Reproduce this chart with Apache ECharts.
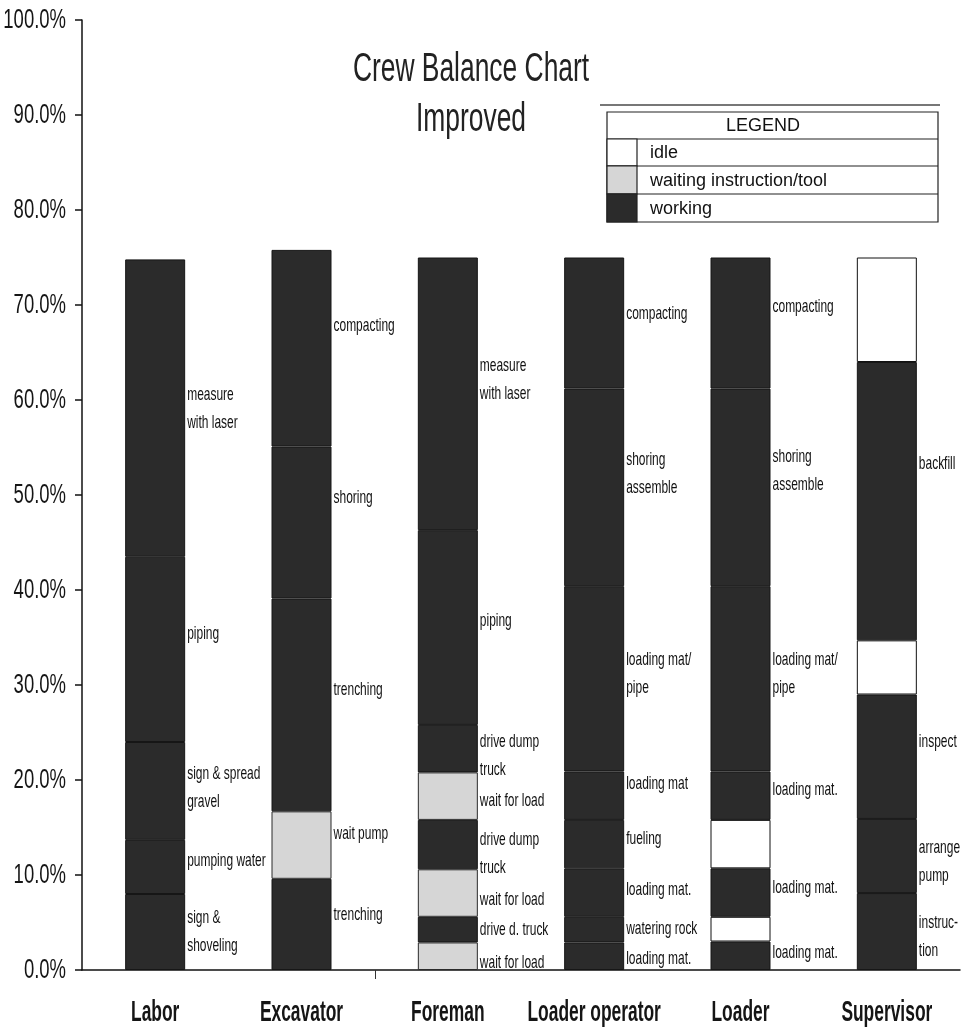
<!DOCTYPE html>
<html>
<head>
<meta charset="utf-8">
<script src="https://cdn.jsdelivr.net/npm/echarts@6/dist/echarts.min.js"></script>
<style>
  html, body { margin: 0; padding: 0; background: #fff; }
  #chart { width: 971px; height: 1033px; }
</style>
</head>
<body>
<div id="chart"></div>
<script>
// Crew members along the horizontal axis
const crews = ['Labor', 'Excavator', 'Foreman', 'Loader operator', 'Loader', 'Supervisor'];

// Percent-of-time segments for each crew member, listed bottom to top
const laborValues = [8.0, 5.7, 10.3, 19.5, 31.3];
const laborStates = ['w', 'w', 'w', 'w', 'w'];
const laborTasks = ['sign &\nshoveling', 'pumping water', 'sign & spread\ngravel', 'piping', 'measure\nwith laser'];

const excavatorValues = [9.6, 7.1, 22.4, 16.0, 20.7];
const excavatorStates = ['w', 'g', 'w', 'w', 'w'];
const excavatorTasks = ['trenching', 'wait pump', 'trenching', 'shoring', 'compacting'];

const foremanValues = [2.9, 2.7, 5.0, 5.2, 5.0, 5.0, 20.5, 28.7];
const foremanStates = ['g', 'w', 'g', 'w', 'g', 'w', 'w', 'w'];
const foremanTasks = ['wait for load', 'drive d. truck', 'wait for load', 'drive dump\ntruck', 'wait for load', 'drive dump\ntruck', 'piping', 'measure\nwith laser'];

const operatorValues = [2.9, 2.7, 5.1, 5.1, 5.1, 19.5, 20.8, 13.8];
const operatorStates = ['w', 'w', 'w', 'w', 'w', 'w', 'w', 'w'];
const operatorTasks = ['loading mat.', 'watering rock', 'loading mat.', 'fueling', 'loading mat', 'loading mat/\npipe', 'shoring\nassemble', 'compacting'];

const loaderValues = [3.0, 2.6, 5.1, 5.1, 5.1, 19.5, 20.8, 13.8];
const loaderStates = ['w', 'i', 'w', 'i', 'w', 'w', 'w', 'w'];
const loaderTasks = ['loading mat.', '', 'loading mat.', '', 'loading mat.', 'loading mat/\npipe', 'shoring\nassemble', 'compacting'];

const supervisorValues = [8.1, 7.8, 13.1, 5.7, 29.3, 11.0];
const supervisorStates = ['w', 'w', 'w', 'i', 'w', 'i'];
const supervisorTasks = ['instruc-\ntion', 'arrange\npump', 'inspect', '', 'backfill', ''];

// Y axis tick labels
const yTickValues = [0, 10, 20, 30, 40, 50, 60, 70, 80, 90, 100];
const yTickLabels = ['0.0%', '10.0%', '20.0%', '30.0%', '40.0%', '50.0%', '60.0%', '70.0%', '80.0%', '90.0%', '100.0%'];

// Legend entries
const legendStates = ['i', 'g', 'w'];
const legendNames = ['idle', 'waiting instruction/tool', 'working'];

// Styling
const stateColors = { w: '#2b2b2b', g: '#d6d6d6', i: '#ffffff' };
const stateBorders = { w: '#161616', g: '#2a2a2a', i: '#111111' };

// Vertical pixel nudges for task names (negative moves up), per crew, bottom to top
const taskNudges = [
  [0, -6, -3, -16, 1],
  [-10, -11, -15, -25, -22],
  [7, 0, 7, 9, 5, 7, -7, -14],
  [3, -1, -3, -5, -12, -5, -14, -9],
  [-3, 0, -5, 0, -6, -5, -17, -16],
  [5, 6, -15, 0, -37, 0]
];

const crewData = [
  [laborValues, laborStates, laborTasks],
  [excavatorValues, excavatorStates, excavatorTasks],
  [foremanValues, foremanStates, foremanTasks],
  [operatorValues, operatorStates, operatorTasks],
  [loaderValues, loaderStates, loaderTasks],
  [supervisorValues, supervisorStates, supervisorTasks]
];

const sans = '"Liberation Sans", Arial, sans-serif';
const BAR_W = 60;
// tall, narrow lettering used throughout the chart
const SQUEEZE = 0.63;

// Stacked bar series, one per layer of segments
const maxLevels = Math.max(...crewData.map(c => c[0].length));
const series = [];
for (let k = 0; k < maxLevels; k++) {
  series.push({
    type: 'bar',
    stack: 'time',
    barWidth: BAR_W,
    data: crewData.map(([vals, states]) => {
      if (k >= vals.length) return '-';
      const s = states[k];
      return {
        value: vals[k],
        itemStyle: { color: stateColors[s], borderColor: stateBorders[s], borderWidth: 1 }
      };
    })
  });
}

// Task names placed beside the middle of each segment
const taskLabelData = [];
crewData.forEach(([vals, states, tasks], ci) => {
  let base = 0;
  vals.forEach((v, k) => {
    if (tasks[k]) taskLabelData.push({ value: [ci, base + v / 2], task: tasks[k], nudge: taskNudges[ci][k] });
    base += v;
  });
});
series.push({
  type: 'custom',
  z: 10,
  clip: false,
  data: taskLabelData,
  renderItem: (params, api) => {
    const p = api.coord([api.value(0), api.value(1)]);
    const item = taskLabelData[params.dataIndex];
    return {
      type: 'text',
      x: p[0] + BAR_W / 2 + 2,
      y: p[1] + item.nudge,
      scaleX: SQUEEZE,
      style: {
        text: item.task,
        font: '19px ' + sans,
        lineHeight: 28,
        fill: '#111',
        textAlign: 'left',
        textVerticalAlign: 'middle'
      }
    };
  }
});

// Percent labels beside the vertical axis
series.push({
  type: 'custom',
  z: 10,
  clip: false,
  data: yTickValues.map(v => [0, v]),
  renderItem: (params, api) => {
    const p = api.coord([0, api.value(1)]);
    return {
      type: 'text',
      x: params.coordSys.x - 16,
      y: p[1],
      scaleX: 0.66,
      style: {
        text: yTickLabels[params.dataIndex],
        font: '28px ' + sans,
        fill: '#151515',
        textAlign: 'right',
        textVerticalAlign: 'middle'
      }
    };
  }
});

// Crew names under the horizontal axis, plus the single boundary tick before Foreman
series.push({
  type: 'custom',
  z: 10,
  clip: false,
  data: crews.map((c, i) => [i, 0]),
  renderItem: (params, api) => {
    const i = api.value(0);
    const p = api.coord([i, 0]);
    const children = [{
      type: 'text',
      x: p[0],
      y: p[1] + 43,
      scaleX: 0.58,
      style: {
        text: crews[params.dataIndex],
        font: 'bold 30px ' + sans,
        fill: '#151515',
        textAlign: 'center',
        textVerticalAlign: 'middle'
      }
    }];
    if (i === 2) {
      const prev = api.coord([1, 0]);
      const bx = Math.round((prev[0] + p[0]) / 2) + 0.5;
      children.push({
        type: 'line',
        shape: { x1: bx, y1: p[1], x2: bx, y2: p[1] + 9 },
        style: { stroke: '#333', lineWidth: 1 }
      });
    }
    return { type: 'group', children };
  }
});

// Legend table drawn as a boxed grid
const lgX = 607, lgY = 112, lgW = 331, lgSw = 30;
const rowH = [27, 27, 28, 28];
const legendGraphics = [
  { type: 'line', shape: { x1: 600, y1: 105, x2: 940, y2: 105 }, style: { stroke: '#777', lineWidth: 2 } },
  { type: 'rect', shape: { x: lgX, y: lgY, width: lgW, height: rowH.reduce((a, b) => a + b, 0) }, style: { fill: '#fff', stroke: '#222', lineWidth: 1.2 } },
  { type: 'text', x: 763, y: lgY + rowH[0] / 2 + 1, style: { text: 'LEGEND', font: '18px ' + sans, fill: '#111', textAlign: 'center', textVerticalAlign: 'middle' } }
];
let yy = lgY + rowH[0];
legendStates.forEach((s, i) => {
  const h = rowH[i + 1];
  legendGraphics.push(
    { type: 'line', shape: { x1: lgX, y1: yy, x2: lgX + lgW, y2: yy }, style: { stroke: '#222', lineWidth: 1.2 } },
    { type: 'rect', shape: { x: lgX, y: yy, width: lgSw, height: h }, style: { fill: stateColors[s], stroke: '#222', lineWidth: 1.2 } },
    { type: 'text', x: lgX + lgSw + 13, y: yy + h / 2 + 1, style: { text: legendNames[i], font: '18px ' + sans, fill: '#111', textVerticalAlign: 'middle' } }
  );
  yy += h;
});

const chart = echarts.init(document.getElementById('chart'), null, { renderer: 'canvas' });
chart.setOption({
  backgroundColor: '#fff',
  animation: false,
  grid: { left: 82, right: 11, top: 20, bottom: 63, containLabel: false },
  xAxis: {
    type: 'category',
    data: crews,
    axisLine: { lineStyle: { color: '#111', width: 1.5 } },
    axisTick: { show: false },
    axisLabel: { show: false }
  },
  yAxis: {
    type: 'value',
    min: 0,
    max: 100,
    interval: 10,
    splitLine: { show: false },
    axisLine: { show: true, lineStyle: { color: '#111', width: 1.5 } },
    axisTick: { show: true, length: 7, lineStyle: { color: '#111', width: 1.5 } },
    axisLabel: { show: false }
  },
  graphic: [
    { type: 'text', x: 471, y: 70, scaleX: 0.66, style: { text: 'Crew Balance Chart', font: '40px ' + sans, fill: '#222', textAlign: 'center', textVerticalAlign: 'middle' } },
    { type: 'text', x: 471, y: 120, scaleX: 0.66, style: { text: 'Improved', font: '40px ' + sans, fill: '#222', textAlign: 'center', textVerticalAlign: 'middle' } },
    ...legendGraphics
  ],
  series
});
</script>
</body>
</html>
